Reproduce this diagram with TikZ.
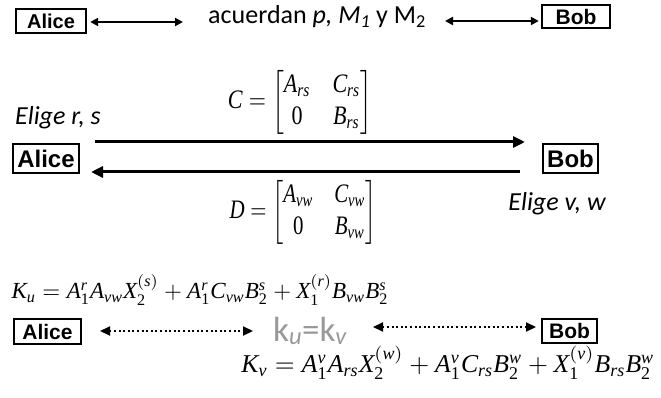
\documentclass[tikz,border=0pt]{standalone}
\usepackage{fontspec}
\usepackage{amsmath}
\usepackage{graphicx}
\setmainfont{Liberation Serif}
\newfontfamily\calfont{Carlito}
\newfontfamily\arialfont{Liberation Sans}
\newfontfamily\tmsfam[NFSSFamily=tmsx]{Liberation Serif}
\DeclareMathAlphabet{\ti}{TU}{tmsx}{m}{it}
\DeclareMathAlphabet{\tr}{TU}{tmsx}{m}{n}
\usetikzlibrary{arrows.meta}
\tikzset{
  pbox/.style={draw, line width=2.4pt, inner sep=0pt},
  fsA/.style={font=\arialfont\bfseries\fontsize{20}{20}\selectfont},
  fsB/.style={font=\arialfont\bfseries\fontsize{24}{24}\selectfont},
  fsC/.style={font=\arialfont\bfseries\fontsize{21}{21}\selectfont},
  carl/.style={font=\calfont\fontsize{26}{26}\selectfont},
  carlit/.style={font=\calfont\itshape\fontsize{26}{26}\selectfont},
  smallarr/.style={line width=2pt, {Triangle[length=8pt,width=8pt]}-{Triangle[length=8pt,width=8pt]}},
  bigarr/.style={line width=3pt, -{Triangle[length=12pt,width=11pt]}},
  dotarr/.style={line width=2.2pt, dash pattern=on 2pt off 2.6pt, {Triangle[length=10pt,width=9pt]}-{Triangle[length=10pt,width=9pt]}},
}
\begin{document}
\begin{tikzpicture}[x=1pt,y=-1pt]
\useasboundingbox[fill=white] (0,0) rectangle (661,398);
% top row
\node[pbox, fsA, minimum width=70pt, minimum height=24pt] (a1) at (51,21) {Alice};
\node[pbox, fsC, minimum width=68pt, minimum height=23pt] (b1) at (576,16.5) {Bob};
\node[carl, anchor=center] (acc) at (317,17) {acuerdan \textit{p, M\textsubscript{1}} y M\textsubscript{2}};
\coordinate (t1) at (183,22);
\coordinate (t2) at (445,21);
\draw[smallarr] ([xshift=3pt]a1.east |- t1) -- (t1);
\draw[smallarr] (t2) -- ([xshift=-2pt]b1.west |- t2);
% middle row
\node[carlit] (er) at (58,118) {Elige r, s};
\node[pbox, fsB, minimum width=66pt, minimum height=29pt] (a2) at (46,158.5) {Alice};
\node[pbox, fsB, minimum width=55pt, minimum height=29pt] (b2) at (570.5,158.5) {Bob};
\node[carlit] (ev) at (557,204) {Elige v, w};
\node (cm) at (300,102) {\resizebox*{144pt}{64pt}{$\ti{C} = \begin{bmatrix} \ti{A_{rs}} & \ti{C_{rs}} \\ \tr{0} & \ti{B_{rs}} \end{bmatrix}$}};
\node (dm) at (303,212) {\resizebox*{147pt}{64pt}{$\ti{D} = \begin{bmatrix} \ti{A_{vw}} & \ti{C_{vw}} \\ \tr{0} & \ti{B_{vw}} \end{bmatrix}$}};
\coordinate (m1s) at (95,142);
\coordinate (m1e) at (525,142);
\coordinate (m2s) at (520,172);
\coordinate (m2e) at (91,172);
\draw[bigarr] (m1s) -- (m1e);
\draw[bigarr] (m2s) -- (m2e);
% bottom row
\node[anchor=west] (ku) at (8,290) {\resizebox{377pt}{!}{$\ti{K_u = A_{\tr{1}}^{r} A_{vw} X_{\tr{2}}^{(s)} + A_{\tr{1}}^{r} C_{vw} B_{\tr{2}}^{s} + X_{\tr{1}}^{(r)} B_{vw} B_{\tr{2}}^{s}}$}};
\node[pbox, fsC, minimum width=67pt, minimum height=25pt] (a3) at (47.5,331.5) {Alice};
\node[pbox, fsC, minimum width=55pt, minimum height=24pt] (b3) at (569.5,331) {Bob};
\node[text=gray!80, font=\calfont\fontsize{35}{35}\selectfont] (kk) at (310,331) {k\textsubscript{\itshape u}=k\textsubscript{\itshape v}};
\coordinate (d1s) at (100,331);
\coordinate (d1e) at (253,331);
\coordinate (d2s) at (373,327);
\coordinate (d2e) at (536,327);
\draw[dotarr] (d1s) -- (d1e);
\draw[dotarr] (d2s) -- (d2e);
\node[anchor=east] (kv) at (658,363) {\resizebox{413pt}{!}{$\ti{K_v = A_{\tr{1}}^{v} A_{rs} X_{\tr{2}}^{(w)} + A_{\tr{1}}^{v} C_{rs} B_{\tr{2}}^{w} + X_{\tr{1}}^{(v)} B_{rs} B_{\tr{2}}^{w}}$}};
\end{tikzpicture}
\end{document}
